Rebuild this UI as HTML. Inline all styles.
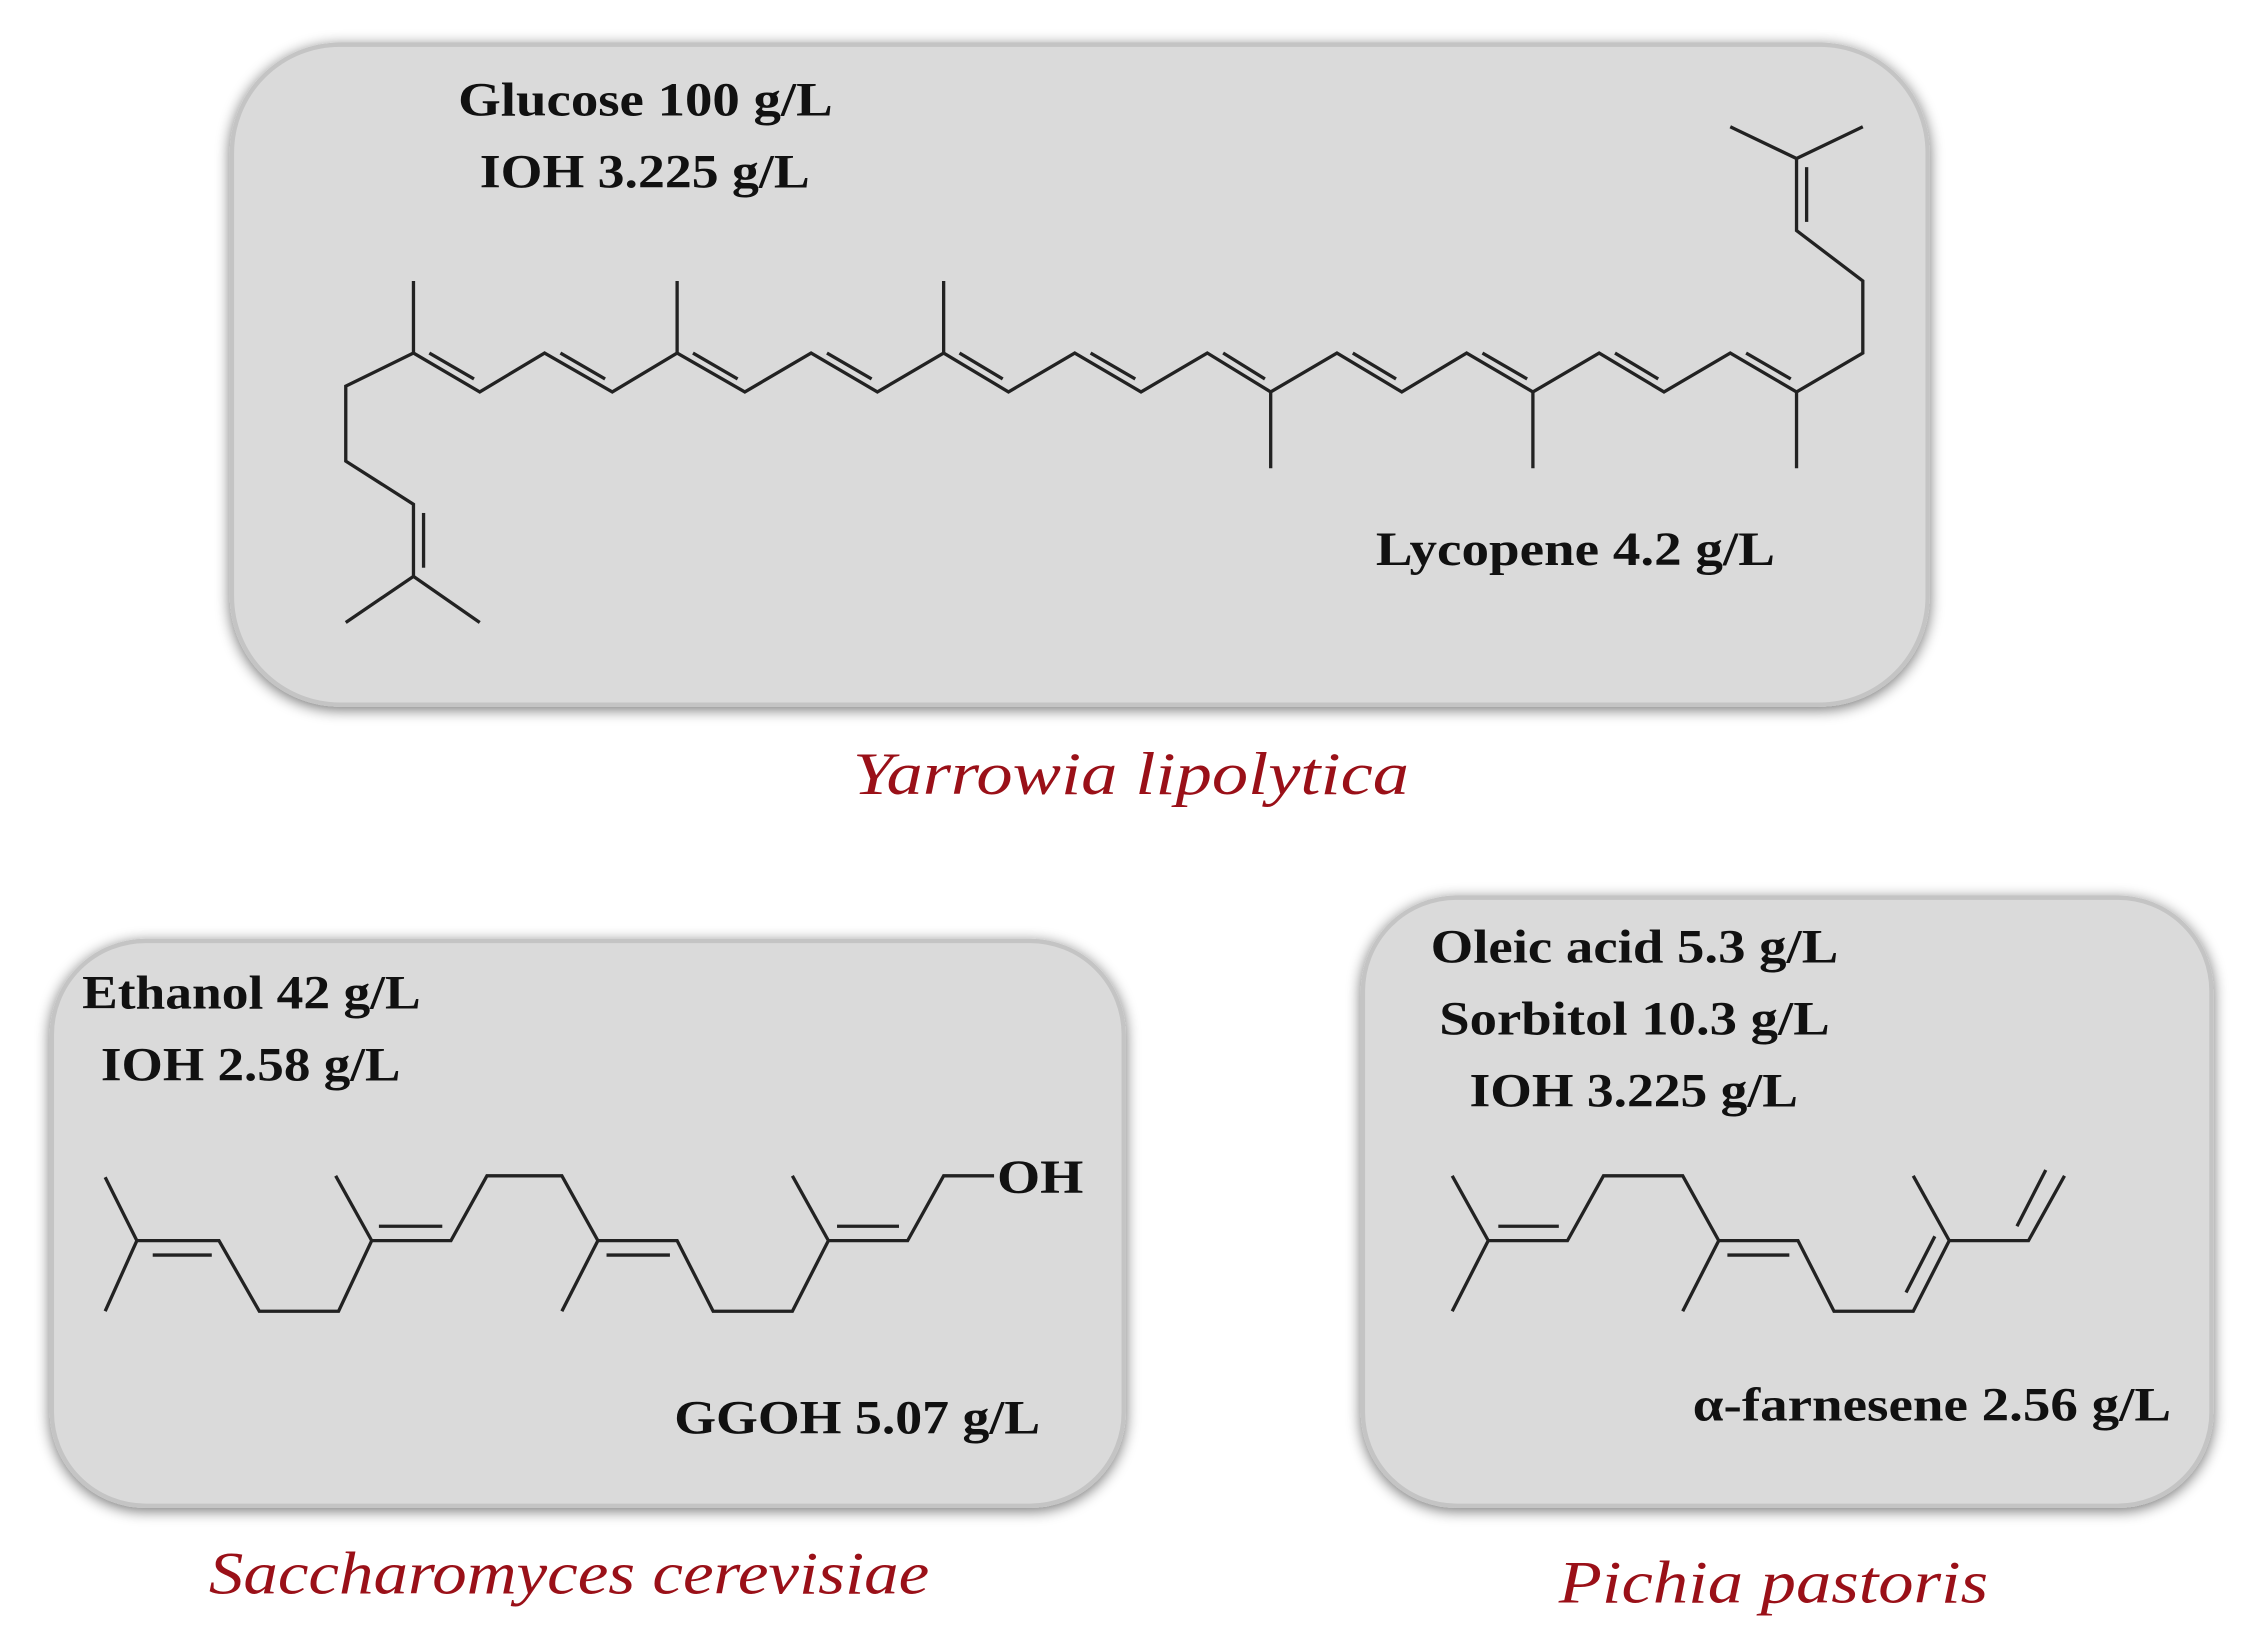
<!DOCTYPE html>
<html><head><meta charset="utf-8"><style>
html,body{margin:0;padding:0;background:#fff;}
svg{display:block;}
.t{font-family:"Liberation Serif",serif;font-weight:bold;font-size:33px;fill:#111;}
.s{font-family:"Liberation Serif",serif;font-style:italic;font-size:42px;fill:#9a1018;}
</style></head><body>
<svg width="2259" height="1634" viewBox="0 0 1568 1134" preserveAspectRatio="none" xmlns="http://www.w3.org/2000/svg">
<defs>
<filter id="sh" x="-10%" y="-10%" width="120%" height="120%">
<feGaussianBlur in="SourceAlpha" stdDeviation="5"/>
<feOffset dx="0" dy="2" result="b"/>
<feComponentTransfer><feFuncA type="linear" slope="0.55"/></feComponentTransfer>
<feMerge><feMergeNode/><feMergeNode in="SourceGraphic"/></feMerge>
</filter>
</defs>
<g filter="url(#sh)">
<rect x="161" y="31" width="1177" height="458" rx="75" fill="#dadada" stroke="#c4c4c4" stroke-width="3"/>
<rect x="36" y="653" width="744" height="392" rx="65" fill="#dadada" stroke="#c4c4c4" stroke-width="3"/>
<rect x="946" y="623" width="589" height="422" rx="65" fill="#dadada" stroke="#c4c4c4" stroke-width="3"/>
</g>
<g stroke="#222" stroke-width="2.3" fill="none" stroke-linejoin="miter">
<polyline points="240,432 287,400 333,432"/>
<polyline points="287,400 287,350 240,320 240,268 287,245 333,272 378,245 425,272 470,245 517,272 563,245 609,272 655,245 700,272 746,245 792,272 838,245 882,272 928,245 973,272 1018,245 1064,272 1110,245 1155,272 1201,245 1247,272 1293,245 1293,195 1247,160 1247,110"/>
<polyline points="1201,88 1247,110 1293,88"/>
<line x1="294" y1="356" x2="294" y2="394"/>
<line x1="1254" y1="116" x2="1254" y2="154"/>
<line x1="287" y1="245" x2="287" y2="195"/>
<line x1="470" y1="245" x2="470" y2="195"/>
<line x1="655" y1="245" x2="655" y2="195"/>
<line x1="882" y1="272" x2="882" y2="325"/>
<line x1="1064" y1="272" x2="1064" y2="325"/>
<line x1="1247" y1="272" x2="1247" y2="325"/>
<g>
<line x1="298" y1="245" x2="329" y2="263"/>
<line x1="389" y1="245" x2="420" y2="263"/>
<line x1="481" y1="245" x2="512" y2="263"/>
<line x1="574" y1="245" x2="605" y2="263"/>
<line x1="666" y1="245" x2="696" y2="263"/>
<line x1="757" y1="245" x2="788" y2="263"/>
<line x1="849" y1="245" x2="878" y2="263"/>
<line x1="939" y1="245" x2="969" y2="263"/>
<line x1="1029" y1="245" x2="1060" y2="263"/>
<line x1="1121" y1="245" x2="1151" y2="263"/>
<line x1="1212" y1="245" x2="1243" y2="263"/>
</g>
<polyline points="73,817 95,861 73,910"/>
<polyline points="95,861 152,861 180,910 235,910 258,861 313,861 338,816 390,816 415,861 470,861 495,910 550,910 575,861 630,861 655,816 690,816"/>
<line x1="233" y1="816" x2="258" y2="861"/>
<line x1="390" y1="910" x2="415" y2="861"/>
<line x1="550" y1="816" x2="575" y2="861"/>
<line x1="106" y1="871" x2="147" y2="871"/>
<line x1="263" y1="851" x2="307" y2="851"/>
<line x1="421" y1="871" x2="465" y2="871"/>
<line x1="581" y1="851" x2="624" y2="851"/>
<polyline points="1008,816 1033,861 1008,910"/>
<polyline points="1033,861 1088,861 1113,816 1168,816 1193,861 1248,861 1273,910 1328,910 1353,861 1408,861 1433,816"/>
<line x1="1168" y1="910" x2="1193" y2="861"/>
<line x1="1328" y1="816" x2="1353" y2="861"/>
<line x1="1040" y1="851" x2="1082" y2="851"/>
<line x1="1199" y1="871" x2="1242" y2="871"/>
<line x1="1323" y1="897" x2="1343" y2="858"/>
<line x1="1400" y1="851" x2="1420" y2="812"/>
</g>
<text class="t" x="318" y="80" textLength="260" lengthAdjust="spacingAndGlyphs">Glucose 100 g/L</text>
<text class="t" x="333" y="130" textLength="229" lengthAdjust="spacingAndGlyphs">IOH 3.225 g/L</text>
<text class="t" x="955" y="392" textLength="277" lengthAdjust="spacingAndGlyphs">Lycopene 4.2 g/L</text>
<text class="t" x="57" y="700" textLength="235" lengthAdjust="spacingAndGlyphs">Ethanol 42 g/L</text>
<text class="t" x="70" y="750" textLength="208" lengthAdjust="spacingAndGlyphs">IOH 2.58 g/L</text>
<text class="t" x="692" y="828" textLength="60" lengthAdjust="spacingAndGlyphs">OH</text>
<text class="t" x="468" y="995" textLength="254" lengthAdjust="spacingAndGlyphs">GGOH 5.07 g/L</text>
<text class="t" x="993" y="668" textLength="283" lengthAdjust="spacingAndGlyphs">Oleic acid 5.3 g/L</text>
<text class="t" x="999" y="718" textLength="271" lengthAdjust="spacingAndGlyphs">Sorbitol 10.3 g/L</text>
<text class="t" x="1020" y="768" textLength="228" lengthAdjust="spacingAndGlyphs">IOH 3.225 g/L</text>
<text class="t" x="1175" y="986" textLength="332" lengthAdjust="spacingAndGlyphs">α-farnesene 2.56 g/L</text>
<text class="s" x="592" y="551" textLength="386" lengthAdjust="spacingAndGlyphs">Yarrowia lipolytica</text>
<text class="s" x="145" y="1106" textLength="500" lengthAdjust="spacingAndGlyphs">Saccharomyces cerevisiae</text>
<text class="s" x="1082" y="1112" textLength="298" lengthAdjust="spacingAndGlyphs">Pichia pastoris</text>
</svg>
</body></html>
